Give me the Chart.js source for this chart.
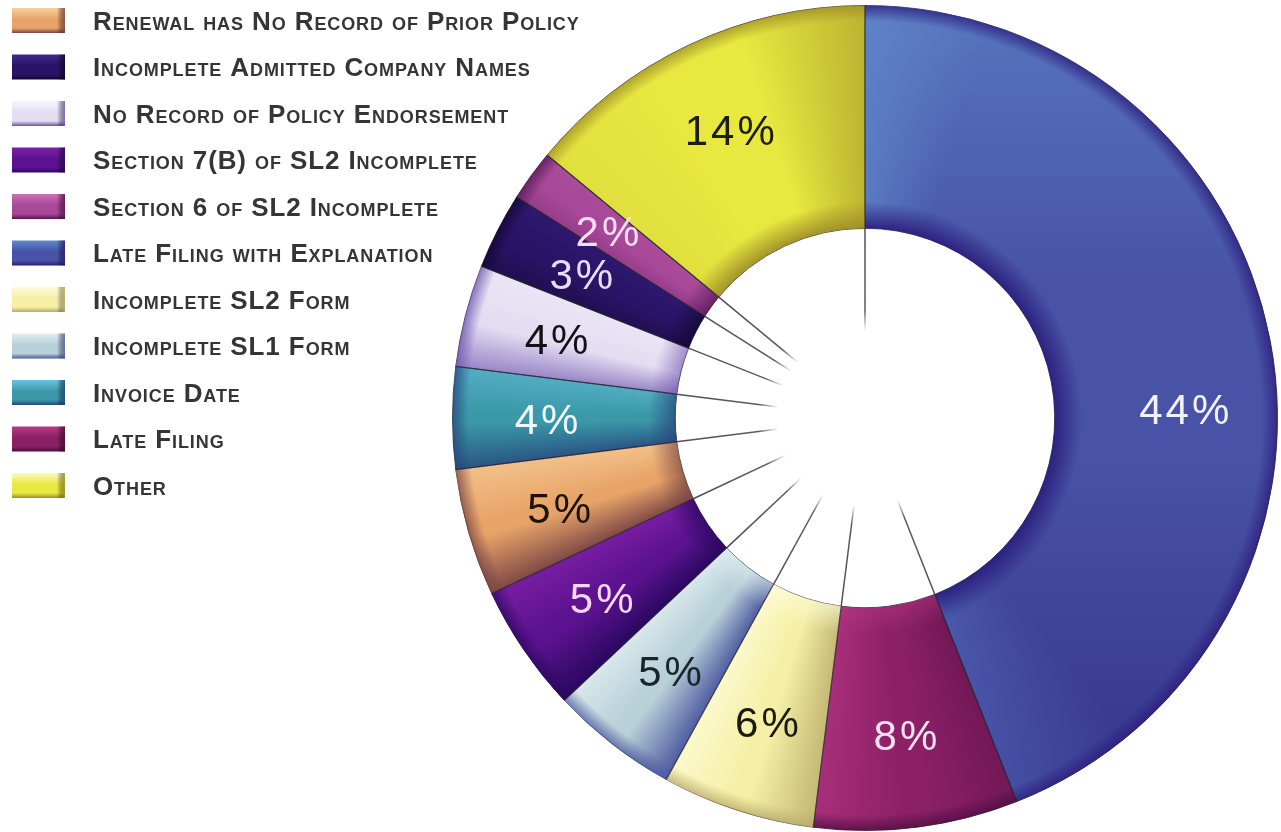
<!DOCTYPE html>
<html>
<head>
<meta charset="utf-8">
<script src="https://cdn.jsdelivr.net/npm/chart.js@4.4.0/dist/chart.umd.min.js"></script>
<style>
  html, body { margin: 0; padding: 0; background: #ffffff; }
  #wrap { position: relative; width: 1281px; height: 832px; }
</style>
</head>
<body>
<div id="wrap"><canvas id="c"></canvas></div>
<script>
// ---- data ----
const categories = [
  'Late Filing with Explanation',
  'Late Filing',
  'Incomplete SL2 Form',
  'Incomplete SL1 Form',
  'Section 7(B) of SL2 Incomplete',
  'Renewal has No Record of Prior Policy',
  'Invoice Date',
  'No Record of Policy Endorsement',
  'Incomplete Admitted Company Names',
  'Section 6 of SL2 Incomplete',
  'Other'
];
const shares = [44, 8, 6, 5, 5, 5, 4, 4, 3, 2, 14];
const legendOrder = [
  'Renewal has No Record of Prior Policy',
  'Incomplete Admitted Company Names',
  'No Record of Policy Endorsement',
  'Section 7(B) of SL2 Incomplete',
  'Section 6 of SL2 Incomplete',
  'Late Filing with Explanation',
  'Incomplete SL2 Form',
  'Incomplete SL1 Form',
  'Invoice Date',
  'Late Filing',
  'Other'
];

// ---- styles ----
const baseColors  = ['#4852a6', '#8c2066', '#f5f0a6', '#b8d0d8', '#5c1290', '#e8a468', '#3a98a8', '#e4def2', '#2a1468', '#a84898', '#e8e840'];
const lightColors = ['#6088cc', '#b83886', '#fdfbd8', '#e0eef0', '#8020a8', '#f8d09c', '#6cc2e0', '#f8f6fc', '#42288e', '#c870bc', '#fafac0'];
const shadeColors = ['#2a1c7c', '#4c0c40', '#b8aa68', '#4c5aa0', '#2a0860', '#7a4444', '#26447a', '#6a50ac', '#120630', '#541656', '#9c8c26'];
const labelColors = ['#f2f2ff', '#f8e0f0', '#1a1a10', '#18262c', '#f4d8f4', '#1c1208', '#f0f8fa', '#141018', '#e6def6', '#f6dcf2', '#1e1e08'];
const innerRim    = [-0.95, 0.5, 0.7, 0.6, -0.8, -0.7, -0.75, -0.6, -0.8, -0.8, -0.95];
const verticalTint = [0.9, 0, 0, 0, 0, 0, 0, 0, 0, 0, 0];
const labelTurnDeg = [9, 0, 0, 0, 0, 0, 0, 0, 0, 0, 0];

function rgba(hex, a) {
  const n = parseInt(hex.slice(1), 16);
  return 'rgba(' + ((n >> 16) & 255) + ',' + ((n >> 8) & 255) + ',' + (n & 255) + ',' + Math.max(0, Math.min(1, a)).toFixed(3) + ')';
}
function edgeColor(i, d, a) {
  return d >= 0 ? rgba(lightColors[i], a * d) : rgba(shadeColors[i], -a * d);
}

const shadingPlugin = {
  id: 'shading',
  afterDatasetsDraw(chart) {
    const ctx = chart.ctx;
    const meta = chart.getDatasetMeta(0);
    const LX = -Math.SQRT1_2, LY = -Math.SQRT1_2;
    meta.data.forEach((el, i) => {
      const p = el.getProps(['x', 'y', 'startAngle', 'endAngle', 'innerRadius', 'outerRadius'], true);
      const span = (p.endAngle - p.startAngle) / (Math.PI * 2);
      const box = [p.x - p.outerRadius, p.y - p.outerRadius, p.outerRadius * 2, p.outerRadius * 2];
      ctx.save();
      ctx.beginPath();
      ctx.arc(p.x, p.y, p.outerRadius, p.startAngle, p.endAngle);
      ctx.arc(p.x, p.y, p.innerRadius, p.endAngle, p.startAngle, true);
      ctx.closePath();
      ctx.clip();
      // overall top-to-bottom lighting
      if (verticalTint[i] > 0) {
        const vg = ctx.createLinearGradient(0, p.y - p.outerRadius, 0, p.y + p.outerRadius);
        vg.addColorStop(0, rgba(lightColors[i], 0.7 * verticalTint[i]));
        vg.addColorStop(0.35, rgba(lightColors[i], 0));
        vg.addColorStop(0.55, rgba(shadeColors[i], 0));
        vg.addColorStop(1, rgba(shadeColors[i], 0.7 * verticalTint[i]));
        ctx.fillStyle = vg;
        ctx.fillRect(box[0], box[1], box[2], box[3]);
      }
      // bevels on the two radial edges, lit from the upper left
      const nS = p.startAngle - Math.PI / 2, nE = p.endAngle + Math.PI / 2;
      const dS = Math.cos(nS) * LX + Math.sin(nS) * LY;
      const dE = Math.cos(nE) * LX + Math.sin(nE) * LY;
      const w = Math.min(span * 0.45, 18 / 360);
      const g = ctx.createConicGradient(p.startAngle, p.x, p.y);
      g.addColorStop(0, edgeColor(i, dS, 1));
      g.addColorStop(w, edgeColor(i, dS, 0));
      g.addColorStop(span - w, edgeColor(i, dE, 0));
      g.addColorStop(span, edgeColor(i, dE, 0.8));
      g.addColorStop(1, edgeColor(i, dE, 0.8));
      ctx.fillStyle = g;
      ctx.fillRect(box[0], box[1], box[2], box[3]);
      // rims at inner and outer edges
      const rg = ctx.createRadialGradient(p.x, p.y, p.innerRadius, p.x, p.y, p.outerRadius);
      rg.addColorStop(0, edgeColor(i, innerRim[i], 0.95));
      rg.addColorStop(0.12, edgeColor(i, innerRim[i], 0));
      rg.addColorStop(0.93, rgba(shadeColors[i], 0));
      rg.addColorStop(1, rgba(shadeColors[i], 0.75));
      ctx.fillStyle = rg;
      ctx.fillRect(box[0], box[1], box[2], box[3]);
      ctx.restore();
    });
    // separators, continuing into the hole
    meta.data.forEach((el) => {
      const p = el.getProps(['x', 'y', 'startAngle', 'innerRadius', 'outerRadius'], true);
      const c = Math.cos(p.startAngle), s = Math.sin(p.startAngle);
      const r0 = p.innerRadius * 0.46;
      const lg = ctx.createLinearGradient(p.x + c * r0, p.y + s * r0, p.x + c * p.innerRadius, p.y + s * p.innerRadius);
      lg.addColorStop(0, 'rgba(60,60,70,0)');
      lg.addColorStop(0.2, 'rgba(60,60,70,0.85)');
      lg.addColorStop(1, 'rgba(60,60,70,0.9)');
      ctx.save();
      ctx.strokeStyle = lg;
      ctx.lineWidth = 1.5;
      ctx.beginPath();
      ctx.moveTo(p.x + c * r0, p.y + s * r0);
      ctx.lineTo(p.x + c * p.innerRadius, p.y + s * p.innerRadius);
      ctx.stroke();
      ctx.strokeStyle = 'rgba(40,36,50,0.75)';
      ctx.lineWidth = 1.2;
      ctx.beginPath();
      ctx.moveTo(p.x + c * p.innerRadius, p.y + s * p.innerRadius);
      ctx.lineTo(p.x + c * p.outerRadius, p.y + s * p.outerRadius);
      ctx.stroke();
      ctx.restore();
    });
    // percentage labels
    ctx.save();
    ctx.font = "42px 'Liberation Sans', Arial, sans-serif";
    ctx.letterSpacing = '3px';
    ctx.textAlign = 'center';
    ctx.textBaseline = 'middle';
    meta.data.forEach((el, i) => {
      const p = el.getProps(['x', 'y', 'startAngle', 'endAngle', 'innerRadius', 'outerRadius'], true);
      const a = (p.startAngle + p.endAngle) / 2 + labelTurnDeg[i] * Math.PI / 180;
      const r = p.innerRadius + 0.58 * (p.outerRadius - p.innerRadius);
      ctx.fillStyle = labelColors[i];
      ctx.fillText(shares[i] + '%', p.x + Math.cos(a) * r + 2, p.y + Math.sin(a) * r + 4);
    });
    ctx.restore();
  },
  afterDraw(chart) {
    // legend
    const ctx = chart.ctx;
    ctx.save();
    legendOrder.forEach((name, k) => {
      const i = categories.indexOf(name);
      const bx = 12, by = 8 + k * 46.5, bw = 53, bh = 25;
      const g = ctx.createLinearGradient(0, by, 0, by + bh);
      g.addColorStop(0, lightColors[i]);
      g.addColorStop(0.45, baseColors[i]);
      g.addColorStop(0.8, baseColors[i]);
      g.addColorStop(1, shadeColors[i]);
      ctx.fillStyle = g;
      ctx.fillRect(bx, by, bw, bh);
      const hg = ctx.createLinearGradient(bx, 0, bx + bw, 0);
      hg.addColorStop(0, 'rgba(0,0,0,0)');
      hg.addColorStop(0.85, 'rgba(0,0,0,0)');
      hg.addColorStop(1, rgba(shadeColors[i], 0.8));
      ctx.fillStyle = hg;
      ctx.fillRect(bx, by, bw, bh);
      ctx.font = "small-caps bold 26px 'Liberation Sans', Arial, sans-serif";
      try { ctx.fontVariantCaps = 'small-caps'; } catch (e) {}
      ctx.letterSpacing = '0.9px';
      ctx.fillStyle = '#353535';
      ctx.textAlign = 'left';
      ctx.textBaseline = 'alphabetic';
      ctx.fillText(name, 93, by + bh / 2 + 9.3);
    });
    ctx.restore();
  }
};

new Chart(document.getElementById('c'), {
  type: 'doughnut',
  data: {
    labels: categories,
    datasets: [{
      data: shares,
      backgroundColor: baseColors,
      borderColor: 'rgba(40,36,50,0.8)',
      borderWidth: 1
    }]
  },
  options: {
    responsive: true,
    maintainAspectRatio: false,
    animation: false,
    events: [],
    cutout: '46%',
    layout: { padding: { left: 452, right: 3, top: 5, bottom: 1 } },
    plugins: { legend: { display: false }, tooltip: { enabled: false } }
  },
  plugins: [shadingPlugin]
});
</script>
</body>
</html>
